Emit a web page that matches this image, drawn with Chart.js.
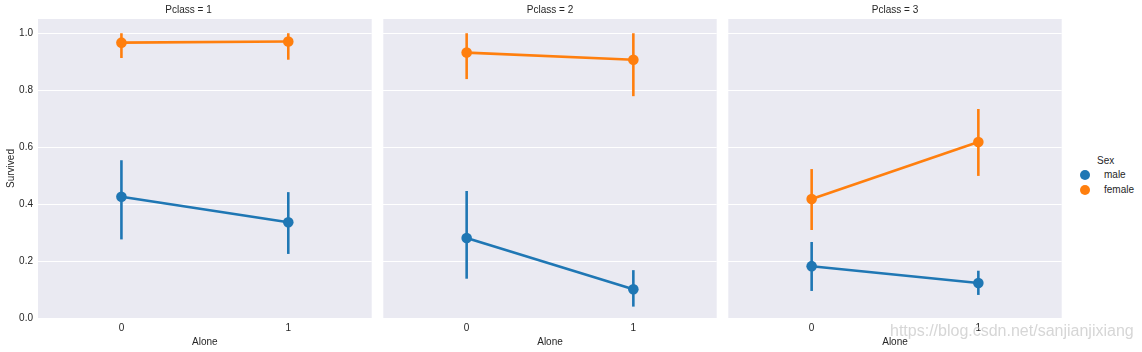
<!DOCTYPE html>
<html>
<head>
<meta charset="utf-8">
<script src="https://cdn.jsdelivr.net/npm/chart.js@4.4.0/dist/chart.umd.min.js"></script>
<style>
  body { margin: 0; background: #fff; font-family: Arial, "Liberation Sans", sans-serif; }
  #wrap { position: relative; width: 1142px; height: 352px; overflow: hidden; }
  canvas { position: absolute; top: 0; }
  .legend { position: absolute; left: 1078px; top: 155px; font-size: 10px; color: #262626; }
  .legend .ttl { position: absolute; left: 19px; top: 0; }
  .legend .row { position: absolute; left: 0; white-space: nowrap; }
  .legend .dot { position: absolute; left: 2px; top: 1px; width: 10px; height: 10px; border-radius: 50%; }
  .legend .lbl { position: absolute; left: 26px; top: 0; }
  .wm { position: absolute; left: 890px; top: 322px; font-size: 16px; color: rgba(200,200,200,0.75); white-space: nowrap; }
</style>
</head>
<body>
<div id="wrap">
  <canvas id="c1" width="377" height="352" style="left:0px;width:377px;height:352px"></canvas>
  <canvas id="c2" width="344" height="352" style="left:378px;width:344px;height:352px"></canvas>
  <canvas id="c3" width="344" height="352" style="left:723px;width:344px;height:352px"></canvas>
  <div class="legend">
    <div class="ttl">Sex</div>
    <div class="row" style="top:14px"><div class="dot" style="background:#1f77b4"></div><div class="lbl">male</div></div>
    <div class="row" style="top:29px"><div class="dot" style="background:#ff7f0e"></div><div class="lbl">female</div></div>
  </div>
  <div class="wm">https://blog.csdn.net/sanjianjixiang</div>
</div>
<script>
const alone = ['0', '1']
const yTicks = [0, 0.2, 0.4, 0.6, 0.8, 1.0]

// Pclass = 1
const p1Male = [0.426, 0.336]
const p1MaleLo = [0.276, 0.225]
const p1MaleHi = [0.554, 0.442]
const p1Female = [0.967, 0.971]
const p1FemaleLo = [0.913, 0.907]
const p1FemaleHi = [1.0, 1.0]

// Pclass = 2
const p2Male = [0.281, 0.101]
const p2MaleLo = [0.138, 0.040]
const p2MaleHi = [0.446, 0.168]
const p2Female = [0.932, 0.907]
const p2FemaleLo = [0.839, 0.779]
const p2FemaleHi = [1.0, 1.0]

// Pclass = 3
const p3Male = [0.182, 0.123]
const p3MaleLo = [0.095, 0.081]
const p3MaleHi = [0.267, 0.166]
const p3Female = [0.418, 0.618]
const p3FemaleLo = [0.309, 0.499]
const p3FemaleHi = [0.523, 0.734]

const BLUE = '#1f77b4'
const ORANGE = '#ff7f0e'
const FONT = { family: 'Arial, "Liberation Sans", sans-serif', size: 10, weight: 'normal' }

// vertical CI bars drawn with the chart's own scales
const errorBars = {
  id: 'errorBars',
  beforeDatasetsDraw(chart) {
    const { ctx, scales } = chart
    ctx.save()
    chart.data.datasets.forEach((ds, idx) => {
      const meta = chart.getDatasetMeta(idx)
      meta.data.forEach((pt, i) => {
        ctx.strokeStyle = ds.borderColor
        ctx.lineWidth = 2.6
        ctx.beginPath()
        ctx.moveTo(pt.x, scales.y.getPixelForValue(ds.lo[i]))
        ctx.lineTo(pt.x, scales.y.getPixelForValue(ds.hi[i]))
        ctx.stroke()
      })
    })
    ctx.restore()
  },
}

const makePanel = (id, title, male, maleLo, maleHi, female, femaleLo, femaleHi, showY) => {
  new Chart(document.getElementById(id), {
    type: 'line',
    data: {
      labels: alone,
      datasets: [
        { label: 'female', data: female, lo: femaleLo, hi: femaleHi, borderColor: ORANGE, backgroundColor: ORANGE, order: 0 },
        { label: 'male', data: male, lo: maleLo, hi: maleHi, borderColor: BLUE, backgroundColor: BLUE, order: 1 },
      ],
    },
    options: {
      responsive: false,
      animation: false,
      layout: { padding: 0 },
      elements: {
        line: { borderWidth: 2.6, tension: 0 },
        point: { radius: 5.3, borderWidth: 0, hoverRadius: 5.3 },
      },
      plugins: {
        legend: { display: false },
        tooltip: { enabled: false },
        title: { display: true, text: title, color: '#262626', font: FONT, padding: { top: 4, bottom: 3 } },
      },
      scales: {
        x: {
          type: 'category',
          offset: true,
          grid: { display: false, drawTicks: false },
          border: { display: false },
          ticks: { color: '#262626', font: FONT, padding: 4 },
          title: { display: true, text: 'Alone', color: '#262626', font: FONT, padding: { top: 2, bottom: 4 } },
          afterFit(scale) { scale.height = 34 },
        },
        y: {
          min: 0,
          max: 1.05,
          grid: { color: '#ffffff', lineWidth: 1, drawTicks: false },
          border: { display: false },
          ticks: { display: showY, color: '#262626', font: FONT, padding: 5, callback: (v) => Number(v).toFixed(1) },
          title: { display: showY, text: 'Survived', color: '#262626', font: FONT, padding: { top: 5, bottom: 2 } },
          afterBuildTicks(scale) { scale.ticks = yTicks.map((v) => ({ value: v })) },
          afterFit(scale) { scale.width = showY ? 38 : 0 },
        },
      },
    },
    plugins: [
      {
        id: 'panelBg',
        beforeDraw(chart) {
          const { ctx, chartArea } = chart
          ctx.save()
          ctx.fillStyle = '#eaeaf2'
          ctx.fillRect(chartArea.left, chartArea.top, chartArea.right - chartArea.left, chartArea.bottom - chartArea.top)
          ctx.restore()
        },
      },
      errorBars,
    ],
  })
}

makePanel('c1', 'Pclass = 1', p1Male, p1MaleLo, p1MaleHi, p1Female, p1FemaleLo, p1FemaleHi, true)
makePanel('c2', 'Pclass = 2', p2Male, p2MaleLo, p2MaleHi, p2Female, p2FemaleLo, p2FemaleHi, false)
makePanel('c3', 'Pclass = 3', p3Male, p3MaleLo, p3MaleHi, p3Female, p3FemaleLo, p3FemaleHi, false)
</script>
</body>
</html>
